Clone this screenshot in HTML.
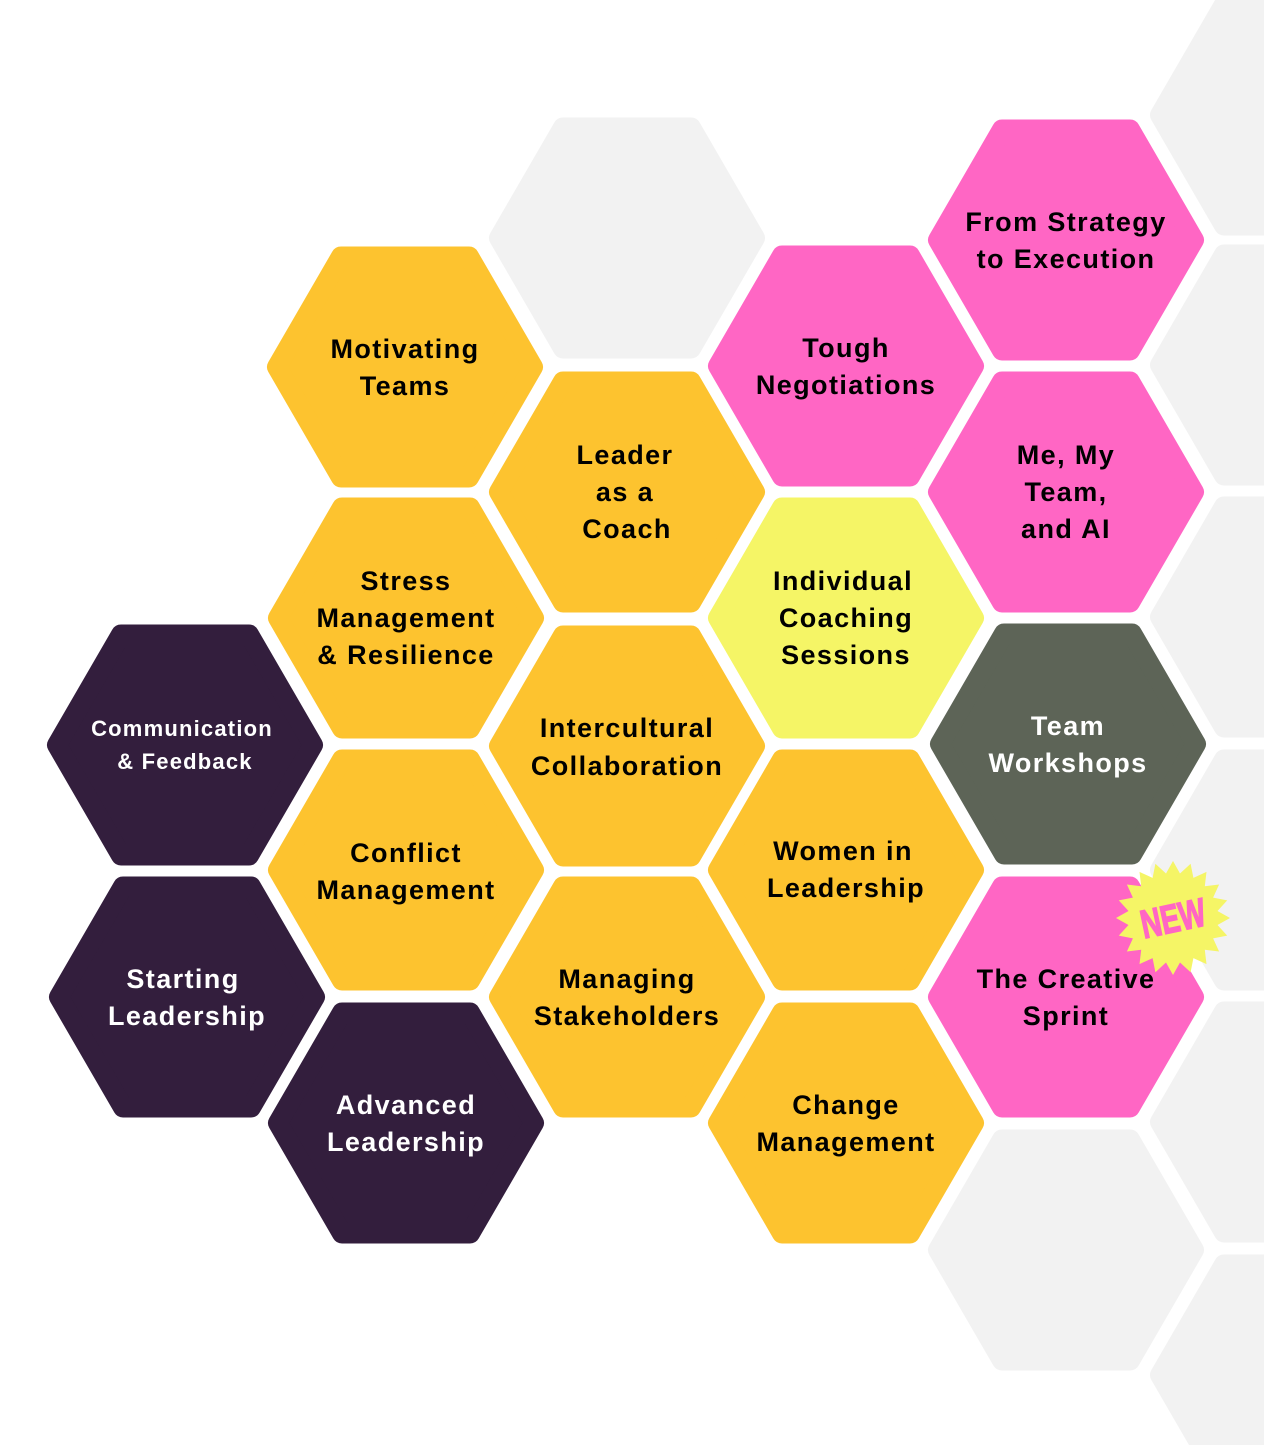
<!DOCTYPE html>
<html><head><meta charset="utf-8"><style>
html,body{margin:0;padding:0;background:#fff;}
svg{display:block}
text{font-family:"Liberation Sans",sans-serif;font-weight:bold;font-size:27px;text-anchor:middle;letter-spacing:1.4px}
</style></head><body>
<svg width="1264" height="1445" viewBox="0 0 1264 1445" xmlns="http://www.w3.org/2000/svg">
<defs>
<polygon id="h" points="-128,0 -64,-110.5 64,-110.5 128,0 64,110.5 -64,110.5" stroke-width="20" stroke-linejoin="round"/>
</defs>
<g fill="#F2F2F2" stroke="#F2F2F2">
<use href="#h" x="627" y="238"/>
<use href="#h" x="1066" y="1250"/>
<use href="#h" x="1288" y="115"/>
<use href="#h" x="1288" y="365"/>
<use href="#h" x="1288" y="617"/>
<use href="#h" x="1288" y="870"/>
<use href="#h" x="1288" y="1122"/>
<use href="#h" x="1288" y="1375"/>
</g>
<g fill="#FDC32F" stroke="#FDC32F">
<use href="#h" x="405" y="367"/>
<use href="#h" x="406" y="618"/>
<use href="#h" x="406" y="870"/>
<use href="#h" x="627" y="492"/>
<use href="#h" x="627" y="746"/>
<use href="#h" x="627" y="997"/>
<use href="#h" x="846" y="870"/>
<use href="#h" x="846" y="1123"/>
</g>
<g fill="#FF66C4" stroke="#FF66C4">
<use href="#h" x="846" y="366"/>
<use href="#h" x="1066" y="240"/>
<use href="#h" x="1066" y="492"/>
<use href="#h" x="1066" y="997"/>
</g>
<use href="#h" x="846" y="618" fill="#F5F566" stroke="#F5F566"/>
<use href="#h" x="1068" y="744" fill="#5D6457" stroke="#5D6457"/>
<g fill="#331E3D" stroke="#331E3D">
<use href="#h" x="185" y="745"/>
<use href="#h" x="187" y="997"/>
<use href="#h" x="406" y="1123"/>
</g>

<g fill="#000">
<text x="405" y="358">Motivating</text><text x="405" y="395">Teams</text>
<text x="406" y="590">Stress</text><text x="406" y="627">Management</text><text x="406" y="664">&amp; Resilience</text>
<text x="406" y="862">Conflict</text><text x="406" y="899">Management</text>
<text x="625" y="464">Leader</text><text x="625" y="501">as a</text><text x="627" y="538">Coach</text>
<text x="627" y="737">Intercultural</text><text x="627" y="775">Collaboration</text>
<text x="627" y="988">Managing</text><text x="627" y="1025">Stakeholders</text>
<text x="846" y="357">Tough</text><text x="846" y="394">Negotiations</text>
<text x="843" y="590">Individual</text><text x="846" y="627">Coaching</text><text x="846" y="664">Sessions</text>
<text x="843" y="860">Women in</text><text x="846" y="897">Leadership</text>
<text x="846" y="1114">Change</text><text x="846" y="1151">Management</text>
<text x="1066" y="231">From Strategy</text><text x="1066" y="268">to Execution</text>
<text x="1066" y="464">Me, My</text><text x="1066" y="501">Team,</text><text x="1066" y="538">and AI</text>
<text x="1066" y="988">The Creative</text><text x="1066" y="1025">Sprint</text>
</g>
<g fill="#fff">
<text x="1068" y="735">Team</text><text x="1068" y="772">Workshops</text>
<text x="182" y="736" style="font-size:22px;letter-spacing:1.2px">Communication</text><text x="185" y="769" style="font-size:22px;letter-spacing:1.2px">&amp; Feedback</text>
<text x="183" y="988">Starting</text><text x="187" y="1025">Leadership</text>
<text x="406" y="1114">Advanced</text><text x="406" y="1151">Leadership</text>
</g>

<g transform="translate(1173,918)">
<polygon fill="#F5F566" points="57,0 44.5,7 54.2,17.6 40.1,20.4 46.1,33.5 31.8,31.8 33.5,46.1 20.4,40.1 17.6,54.2 7,44.5 0,57 -7,44.5 -17.6,54.2 -20.4,40.1 -33.5,46.1 -31.8,31.8 -46.1,33.5 -40.1,20.4 -54.2,17.6 -44.5,7 -57,0 -44.5,-7 -54.2,-17.6 -40.1,-20.4 -46.1,-33.5 -31.8,-31.8 -33.5,-46.1 -20.4,-40.1 -17.6,-54.2 -7,-44.5 0,-57 7,-44.5 17.6,-54.2 20.4,-40.1 33.5,-46.1 31.8,-31.8 46.1,-33.5 40.1,-20.4 54.2,-17.6 44.5,-7"/>
<g transform="rotate(-12) scale(0.7,1)">
<text x="0" y="14" fill="#FF66C4" stroke="#FF66C4" stroke-width="1.5" style="font-size:40px;letter-spacing:0">NEW</text>
</g>
</g>
</svg>
</body></html>
